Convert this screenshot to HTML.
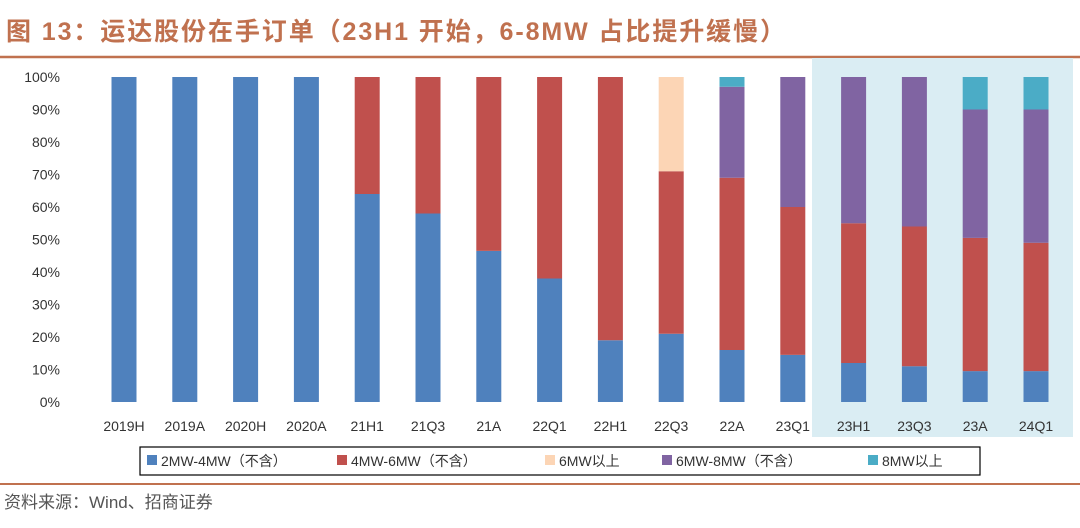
<!DOCTYPE html>
<html><head><meta charset="utf-8"><style>
body{margin:0;width:1080px;height:523px;background:#fff;overflow:hidden;font-family:"Liberation Sans","Noto Sans CJK SC",sans-serif}
</style></head><body>
<svg width="1080" height="523" xmlns="http://www.w3.org/2000/svg">
<text x="6" y="40" font-size="25" font-weight="bold" fill="#C0714F" textLength="779" lengthAdjust="spacing" font-family="Liberation Sans,Noto Sans CJK SC,sans-serif">图 13：运达股份在手订单（23H1 开始，6-8MW 占比提升缓慢）</text>
<line x1="0" y1="57" x2="1080" y2="57" stroke="#C0714F" stroke-width="2.5"/>
<rect x="812" y="58" width="261" height="379" fill="#DAEDF3"/>
<g id="yaxis"></g><g id="bars"></g><g id="xlabels"></g>
<rect x="140" y="447" width="840" height="28" fill="#fff" stroke="#000" stroke-width="1.2"/>
<g id="legend"></g>
<line x1="0" y1="484" x2="1080" y2="484" stroke="#C0714F" stroke-width="2"/>
<text x="4" y="508" font-size="17" fill="#555">资料来源：Wind、招商证券</text>
</svg>
<script>
const categories=["2019H","2019A","2020H","2020A","21H1","21Q3","21A","22Q1","22H1","22Q3","22A","23Q1","23H1","23Q3","23A","24Q1"];
const seriesNames=["2MW-4MW（不含）","4MW-6MW（不含）","6MW以上","6MW-8MW（不含）","8MW以上"];
const s2to4=[100,100,100,100,64,58,46.5,38,19,21,16,14.5,12,11,9.5,9.5];
const s4to6=[0,0,0,0,36,42,53.5,62,81,50,53,45.5,43,43,41,39.5];
const s6plus=[0,0,0,0,0,0,0,0,0,29,0,0,0,0,0,0];
const s6to8=[0,0,0,0,0,0,0,0,0,0,28,40,45,46,39.5,41];
const s8plus=[0,0,0,0,0,0,0,0,0,0,3,0,0,0,10,10];
const yTicks=[0,10,20,30,40,50,60,70,80,90,100];
const colors=["#4F81BD","#C0504D","#FCD5B5","#8064A2","#4BACC6"];
const NS="http://www.w3.org/2000/svg";
const y=v=>402-v*3.25;
const x=i=>124+i*60.8;
function mk(t,a,p){const e=document.createElementNS(NS,t);for(const k in a)e.setAttribute(k,a[k]);document.getElementById(p).appendChild(e);return e;}
yTicks.forEach(t=>{const e=mk("text",{x:60,y:y(t)+5,"font-size":14,fill:"#333","text-anchor":"end"},"yaxis");e.textContent=t+"%";

});
const all=[s2to4,s4to6,s6plus,s6to8,s8plus];
categories.forEach((c,i)=>{let acc=0;all.forEach((s,k)=>{const v=s[i];if(v>0){const r=mk("rect",{x:x(i)-12.5,y:y(acc+v),width:25,height:v*3.25,fill:colors[k]},"bars");

}acc+=v;});
const t=mk("text",{x:x(i),y:431,"font-size":14,fill:"#333","text-anchor":"middle"},"xlabels");t.textContent=c;

});
const lx=[147,337,545,662,868];
seriesNames.forEach((n,k)=>{const r=mk("rect",{x:lx[k],y:455,width:10,height:10,fill:colors[k]},"legend");


const t=mk("text",{x:lx[k]+14,y:466,"font-size":14,fill:"#333"},"legend");t.textContent=n;

});
</script>
</body></html>
